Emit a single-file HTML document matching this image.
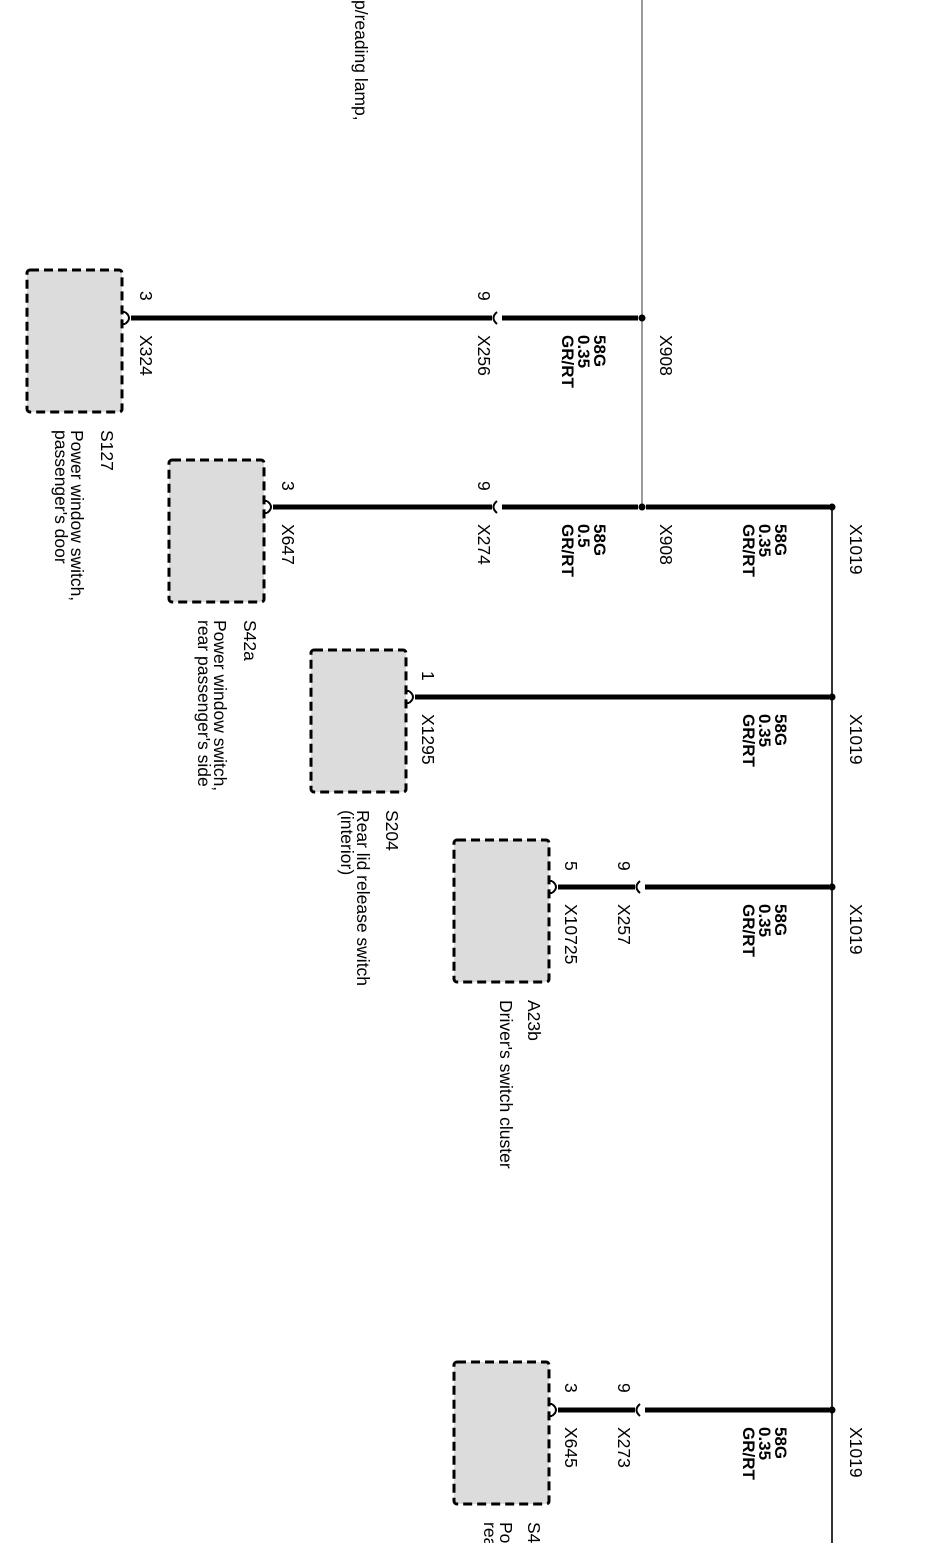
<!DOCTYPE html>
<html><head><meta charset="utf-8"><style>
html,body{margin:0;padding:0;background:#fff;width:944px;height:1543px;overflow:hidden;}
svg{display:block;overflow:hidden;}
text{font-family:"Liberation Sans",Arial,sans-serif;font-size:17.5px;fill:#000;}
.b{font-weight:bold;font-size:17px;}
</style></head><body>
<svg width="944" height="1543" viewBox="0 0 944 1543" xmlns="http://www.w3.org/2000/svg">
<line x1="642" y1="0" x2="642" y2="507" stroke="#9a9a9a" stroke-width="2"/>
<line x1="832" y1="507" x2="832" y2="1543" stroke="#000" stroke-width="1.6"/>

<g fill="#dcdcdc" stroke="#000" stroke-width="3" stroke-dasharray="9,5">
<rect x="27" y="270" width="95" height="142" rx="3"/>
<rect x="169" y="460" width="95" height="142" rx="3"/>
<rect x="311" y="650" width="95" height="142" rx="3"/>
<rect x="454" y="840" width="95" height="142" rx="3"/>
<rect x="454" y="1362" width="95" height="142" rx="3"/>
</g>

<g stroke="#000" stroke-width="5" fill="none">
<line x1="131" y1="318" x2="492" y2="318"/>
<line x1="502" y1="318" x2="638" y2="318"/>
<line x1="273" y1="507" x2="492" y2="507"/>
<line x1="502" y1="507" x2="638" y2="507"/>
<line x1="646" y1="507" x2="829" y2="507"/>
<line x1="415" y1="697" x2="829" y2="697"/>
<line x1="558" y1="887" x2="635" y2="887"/>
<line x1="645" y1="887" x2="829" y2="887"/>
<line x1="558" y1="1410" x2="635" y2="1410"/>
<line x1="645" y1="1410" x2="829" y2="1410"/>
</g>
<g stroke="#000" stroke-width="2" fill="none">
<path d="M497 312 Q490 318 497 324"/>
<path d="M497 501 Q490 507 497 513"/>
<path d="M640 881 Q633 887 640 893"/>
<path d="M640 1404 Q633 1410 640 1416"/>
<path d="M125 312 Q133 318 125 324"/><path d="M122 312 h3 M122 324 h3"/>
<path d="M267 501 Q275 507 267 513"/><path d="M264 501 h3 M264 513 h3"/>
<path d="M409 691 Q417 697 409 703"/><path d="M406 691 h3 M406 703 h3"/>
<path d="M552 881 Q560 887 552 893"/><path d="M549 881 h3 M549 893 h3"/>
<path d="M552 1404 Q560 1410 552 1416"/><path d="M549 1404 h3 M549 1416 h3"/>
</g>
<g fill="#000">
<circle cx="642" cy="318" r="3.5"/><circle cx="642" cy="507" r="3.5"/>
<circle cx="832" cy="507" r="3.5"/><circle cx="832" cy="697" r="3.5"/>
<circle cx="832" cy="887" r="3.5"/><circle cx="832" cy="1410" r="3.5"/>
</g>

<g>
<text transform="translate(355,0) rotate(90)">p/reading lamp,</text>

<text transform="translate(140,291) rotate(90)">3</text>
<text transform="translate(478,291) rotate(90)">9</text>
<text transform="translate(140,335) rotate(90)">X324</text>
<text transform="translate(478,335) rotate(90)">X256</text>
<text class="b" transform="translate(594,335) rotate(90)">58G</text>
<text class="b" transform="translate(578,335) rotate(90)">0.35</text>
<text class="b" transform="translate(562,335) rotate(90)">GR/RT</text>
<text transform="translate(660,335) rotate(90)">X908</text>
<text transform="translate(101,430) rotate(90)">S127</text>
<text transform="translate(71,430) rotate(90)">Power window switch,</text>
<text transform="translate(55,430) rotate(90)">passenger's door</text>

<text transform="translate(282,481) rotate(90)">3</text>
<text transform="translate(478,481) rotate(90)">9</text>
<text transform="translate(282,524) rotate(90)">X647</text>
<text transform="translate(478,524) rotate(90)">X274</text>
<text class="b" transform="translate(594,524) rotate(90)">58G</text>
<text class="b" transform="translate(578,524) rotate(90)">0.5</text>
<text class="b" transform="translate(562,524) rotate(90)">GR/RT</text>
<text transform="translate(660,524) rotate(90)">X908</text>
<text class="b" transform="translate(775,524) rotate(90)">58G</text>
<text class="b" transform="translate(759,524) rotate(90)">0.35</text>
<text class="b" transform="translate(743,524) rotate(90)">GR/RT</text>
<text transform="translate(850,524) rotate(90)">X1019</text>
<text transform="translate(244,620) rotate(90)">S42a</text>
<text transform="translate(214,620) rotate(90)">Power window switch,</text>
<text transform="translate(198,620) rotate(90)">rear passenger's side</text>

<text transform="translate(422,671) rotate(90)">1</text>
<text transform="translate(422,714) rotate(90)">X1295</text>
<text class="b" transform="translate(775,714) rotate(90)">58G</text>
<text class="b" transform="translate(759,714) rotate(90)">0.35</text>
<text class="b" transform="translate(743,714) rotate(90)">GR/RT</text>
<text transform="translate(850,714) rotate(90)">X1019</text>
<text transform="translate(386,810) rotate(90)">S204</text>
<text transform="translate(357,810) rotate(90)">Rear lid release switch</text>
<text transform="translate(341,810) rotate(90)">(interior)</text>

<text transform="translate(565,861) rotate(90)">5</text>
<text transform="translate(618,861) rotate(90)">9</text>
<text transform="translate(565,904) rotate(90)">X10725</text>
<text transform="translate(618,904) rotate(90)">X257</text>
<text class="b" transform="translate(775,904) rotate(90)">58G</text>
<text class="b" transform="translate(759,904) rotate(90)">0.35</text>
<text class="b" transform="translate(743,904) rotate(90)">GR/RT</text>
<text transform="translate(850,904) rotate(90)">X1019</text>
<text transform="translate(528,1000) rotate(90)">A23b</text>
<text transform="translate(500,1000) rotate(90)">Driver's switch cluster</text>

<text transform="translate(565,1383) rotate(90)">3</text>
<text transform="translate(618,1383) rotate(90)">9</text>
<text transform="translate(565,1427) rotate(90)">X645</text>
<text transform="translate(618,1427) rotate(90)">X273</text>
<text class="b" transform="translate(775,1427) rotate(90)">58G</text>
<text class="b" transform="translate(759,1427) rotate(90)">0.35</text>
<text class="b" transform="translate(743,1427) rotate(90)">GR/RT</text>
<text transform="translate(850,1427) rotate(90)">X1019</text>
<text transform="translate(528,1522) rotate(90)">S4</text>
<text transform="translate(500,1522) rotate(90)">Po</text>
<text transform="translate(484,1522) rotate(90)">rea</text>
</g>
</svg>
</body></html>
